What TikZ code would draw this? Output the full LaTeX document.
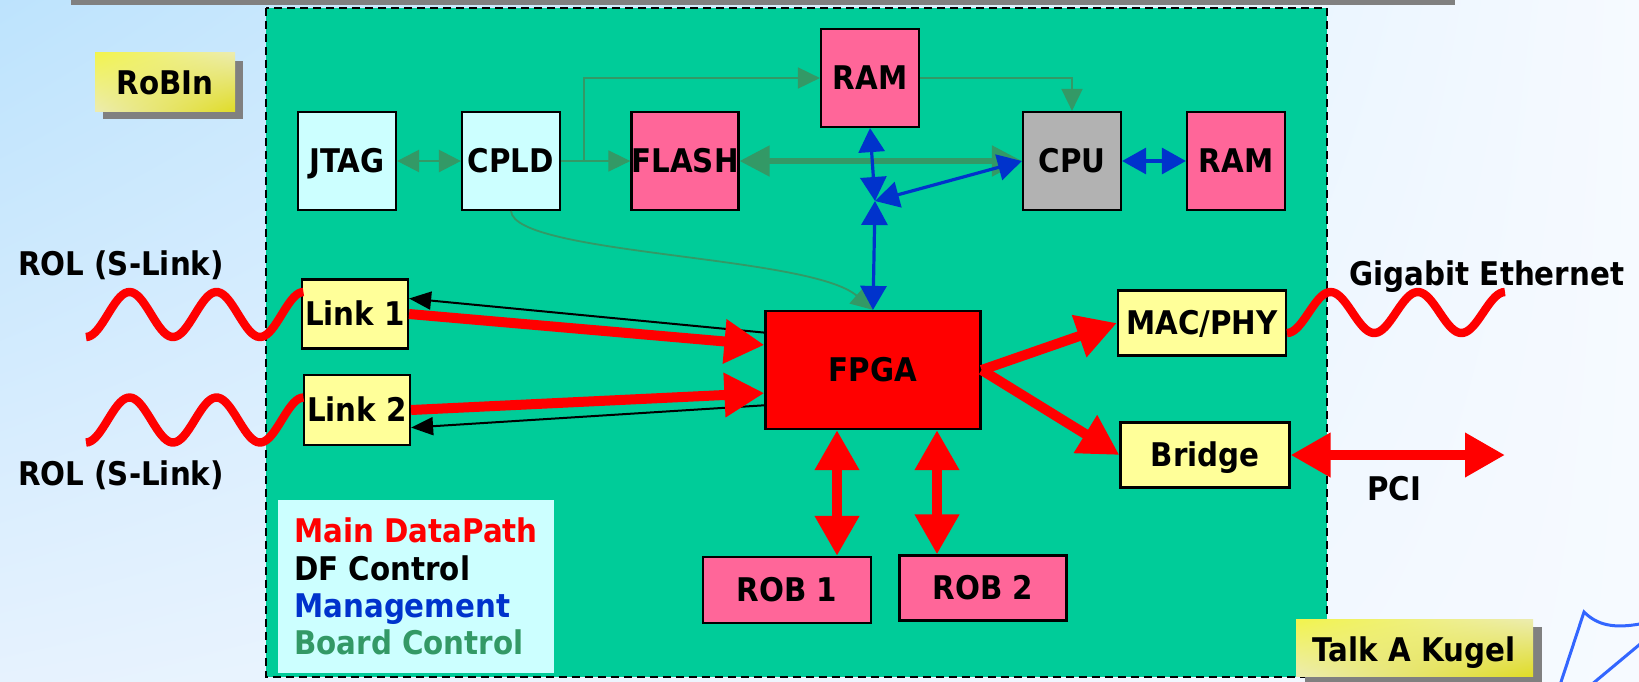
\documentclass[tikz,border=0pt]{standalone}
\usepackage{fontspec}
\setmainfont{DejaVu Sans Condensed}
\usetikzlibrary{arrows.meta,shadings}
\definecolor{boardgreen}{HTML}{00CC99}
\definecolor{chippink}{HTML}{FF6699}
\definecolor{chipcyan}{HTML}{CCFFFF}
\definecolor{chipyellow}{HTML}{FFFF99}
\definecolor{chipgray}{HTML}{B2B2B2}
\definecolor{pathred}{HTML}{FF0000}
\definecolor{mgblue}{HTML}{0033CC}
\definecolor{bcgreen}{HTML}{339966}
\definecolor{doodleblue}{HTML}{3366FF}
\definecolor{skyblue}{HTML}{BDE3FD}
\definecolor{skymid}{HTML}{E6F2FE}
\definecolor{skywhite}{HTML}{F6FAFF}
\definecolor{tagshadow}{HTML}{808080}
\definecolor{tagbright}{HTML}{F2F44C}
\definecolor{tagpale}{HTML}{ECECB0}
\definecolor{tagdeep}{HTML}{E0DC28}
\begin{document}
\begin{tikzpicture}[x=.5pt, y=-.5pt, every node/.style={font=\fontsize{16.3}{18.6}\selectfont\bfseries},
  chip/.style={draw, line width=1.1pt, inner sep=0pt, minimum width=49pt, minimum height=49pt, text height=11.8pt, text depth=0pt},
  lbl/.style={inner sep=0pt, text height=11.8pt, text depth=0pt},
  dp/.style={pathred, line width=5pt, -{Triangle[length=20pt,width=21pt]}},
  dpboth/.style={dp, {Triangle[length=20pt,width=21pt]}-{Triangle[length=20pt,width=21pt]}},
  df/.style={line width=1pt, -{Triangle[length=11pt,width=9pt]}},
  mg/.style={mgblue, line width=1.6pt, {Triangle[length=12pt,width=13pt]}-{Triangle[length=12pt,width=13pt]}},
  bc/.style={bcgreen, line width=.9pt, -{Triangle[length=11pt,width=10.5pt]}},
  bcboth/.style={bc, line width=1.2pt, {Triangle[length=11pt,width=11pt]}-{Triangle[length=11pt,width=11pt]}},
  bcthick/.style={bc, line width=2.6pt, {Triangle[length=15pt,width=15pt]}-{Triangle[length=15pt,width=15pt]}},
  cable/.style={pathred, line width=4.2pt},
  tag/.style={upper left=tagbright, upper right=tagpale, lower left=tagpale, lower right=tagdeep}]
  \useasboundingbox (0,0) rectangle (1639,681); \clip (0,0) rectangle (1639,681);
  \shade[upper left=skyblue, upper right=skywhite, lower left=skymid, lower right=skywhite] (0,0) rectangle (1639,681);
  \fill[tagshadow] (71,0) rectangle (1455,4.5);
  \draw[fill=boardgreen, line width=1pt, dash pattern=on 4pt off 2.5pt] (266,7.5) rectangle (1327,677);
  \fill[tagshadow] (103,61) rectangle (243,119); \shade[tag] (95,52) rectangle (235,111);
  \fill[tagshadow] (1305,627) rectangle (1542,690); \shade[tag] (1296,619) rectangle (1533,676);
  \node[lbl] (robin) at (165,83) {RoBIn}; \node[lbl] (talk) at (1414,650) {Talk A Kugel};
  \node[fill=chipcyan, minimum width=138pt, minimum height=86.5pt, align=left, inner sep=0pt] (legend) at (416,586.5)
    {\textcolor{pathred}{Main DataPath}\\DF Control\\\textcolor{mgblue}{Management}\\\textcolor{bcgreen}{Board Control}};
  \foreach \n/\t/\x/\y/\c in {jtag/JTAG/347/161/chipcyan, cpld/CPLD/511/161/chipcyan, flash/FLASH/685/161/chippink,
    ramtop/RAM/870/78/chippink, cpu/CPU/1072/161/chipgray, ramr/RAM/1236/161/chippink}
    \node[chip, fill=\c] (\n) at (\x,\y) {\t};
  \foreach \n/\t/\x/\y/\w/\h/\c in {link1/Link 1/355/314/53/34.5/chipyellow, link2/Link 2/357/410/53/35/chipyellow,
    fpga/FPGA/873/370/107.5/59/pathred, mac/{MAC/PHY}/1202/323/84/32.5/chipyellow, bridge/Bridge/1205/455/84.5/32.5/chipyellow,
    rob1/ROB 1/787/590/84/33/chippink, rob2/ROB 2/983/588/83.5/32.5/chippink}
    \node[chip, fill=\c, minimum width=\w pt, minimum height=\h pt] (\n) at (\x,\y) {\t};
  \node[lbl] (rol1) at (121,264) {ROL (S-Link)}; \node[lbl] (rol2) at (121,474) {ROL (S-Link)};
  \node[lbl] (gbe) at (1487,274) {Gigabit Ethernet}; \node[lbl] (pci) at (1394,489) {PCI};
  \foreach \c in {314.5,420} \draw[cable] plot[domain=0:5, samples=90] ({86+43.5*\x}, {\c+22.5*cos(180*\x)});
  \draw[cable] plot[domain=0:5, samples=90] ({1287+43.6*\x}, {312.5+20.5*cos(180*\x)});
  \coordinate (split) at (584,161); \coordinate (hub) at (875,201); \coordinate (pcitip) at (1505,455);
  \draw[bcboth] (jtag) -- (cpld); \draw[bc] (cpld) -- (flash);
  \draw[bc] (split) |- (ramtop.west); \draw[bc] (ramtop.east) -| (cpu.north);
  \draw[bcthick] (flash) -- (cpu.west);
  \draw[bc] (cpld.south) .. controls (515,255) and (810,255) .. (fpga.north);
  \draw[mg] (ramtop.south) -- (hub); \draw[mg] (hub) -- (cpu.west); \draw[mg] (hub) -- (fpga.north); \draw[mg] (cpu) -- (ramr);
  \draw[df] (fpga.161) -- (link1.16); \draw[df] (fpga.198) -- (link2.342);
  \draw[dp] (link1.east) -- (fpga.167); \draw[dp] (link2.east) -- (fpga.192);
  \draw[dp] (fpga.east) -- (mac.west); \draw[dp] (fpga.east) -- (bridge.west);
  \draw[dpboth] ([xshift=-18pt]fpga.south) -- ([xshift=-18pt]fpga.south |- rob1.north);
  \draw[dpboth] ([xshift=32pt]fpga.south) -- ([xshift=32pt]fpga.south |- rob2.north);
  \draw[dpboth] (bridge.east) -- (pcitip);
  \draw[doodleblue, line width=1.5pt] (1560,685) -- (1584,612) .. controls (1600,628) and (1620,628) .. (1645,623);
  \draw[doodleblue, line width=1.5pt] (1591,685) -- (1645,640);
\end{tikzpicture}
\end{document}
